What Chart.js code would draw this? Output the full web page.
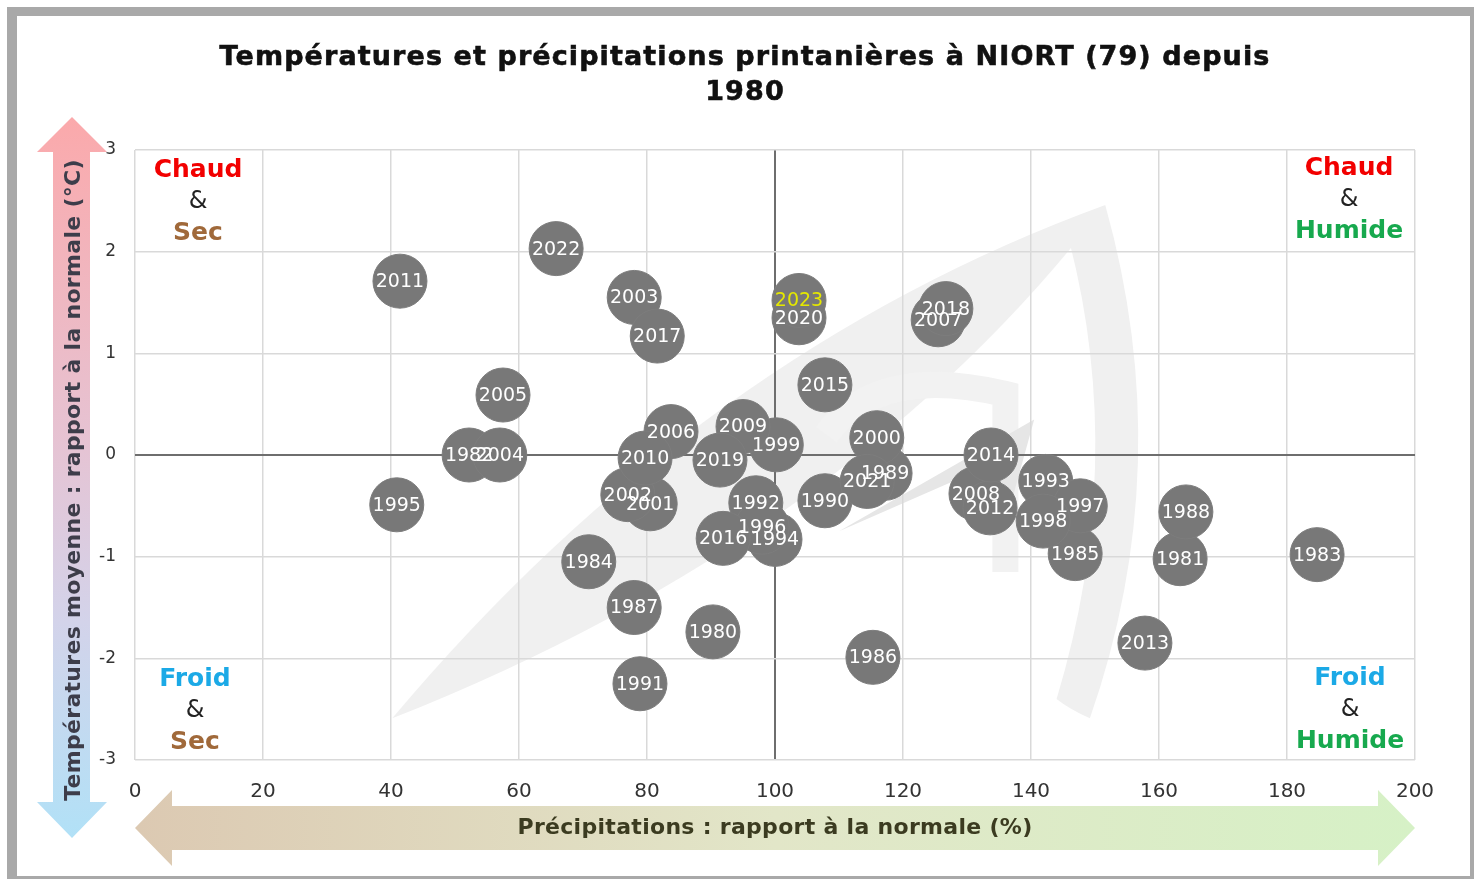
<!DOCTYPE html>
<html>
<head>
<meta charset="utf-8">
<script src="https://cdn.jsdelivr.net/npm/chart.js@4.4.0/dist/chart.umd.min.js"></script>
<style>
html,body{margin:0;padding:0;background:#fff;}
#wrap{width:1474px;height:879px;position:relative;}
</style>
</head>
<body>
<div id="wrap"><canvas id="c" width="1474" height="879"></canvas></div>
<script>
// ---- Data ----
const years = [1980,1981,1982,1983,1984,1985,1986,1987,1988,1989,1990,1991,1992,1993,1994,1995,1996,1997,1998,1999,2000,2001,2002,2003,2004,2005,2006,2007,2008,2009,2010,2011,2012,2013,2014,2015,2016,2017,2018,2019,2020,2021,2022,2023];
const precipitation = [90.3,163.3,52.2,184.7,70.9,146.9,115.3,78.0,164.2,117.2,107.8,78.9,97.0,142.3,100.0,40.9,98.0,147.7,141.9,100.2,115.9,80.5,77.0,78.0,57.0,57.5,83.75,125.5,131.4,95.0,79.7,41.4,133.6,157.8,133.75,107.8,91.9,81.6,126.7,91.4,103.75,114.4,65.8,103.75];
const temperature = [-1.74,-1.02,0.00,-0.98,-1.05,-0.97,-1.99,-1.50,-0.56,-0.18,-0.45,-2.25,-0.47,-0.26,-0.83,-0.49,-0.71,-0.50,-0.65,0.10,0.17,-0.48,-0.39,1.55,0.00,0.59,0.23,1.33,-0.38,0.28,-0.03,1.71,-0.52,-1.85,0.00,0.69,-0.82,1.17,1.44,-0.05,1.35,-0.26,2.03,1.52];
const xTicks = [0,20,40,60,80,100,120,140,160,180,200];
const yTicks = [-3,-2,-1,0,1,2,3];
const highlightYear = 2023;

const titleLines = ['Températures et précipitations printanières à NIORT (79) depuis','1980'];
const xTitle = 'Précipitations : rapport à la normale (%)';
const yTitle = 'Températures moyenne : rapport à la normale (°C)';

const FONT = '"DejaVu Sans", Verdana, sans-serif';

const points = years.map((y,i)=>({x:precipitation[i], y:temperature[i], year:y}));

// ---- Decoration plugin (frame, title, watermark, arrows, quadrant labels) ----
const deco = {
  id:'deco',
  beforeDraw(chart){
    const ctx = chart.ctx;
    ctx.save();
    // frame
    ctx.fillStyle = '#ffffff';
    ctx.fillRect(0,0,chart.width,chart.height);
    ctx.fillStyle = '#a9a9a9';
    ctx.fillRect(7,7,1467,872);
    ctx.fillStyle = '#ffffff';
    ctx.fillRect(17,16,1453,860);
    // title
    ctx.fillStyle = '#111111';
    ctx.strokeStyle = '#111111';
    ctx.lineWidth = 0.6;
    ctx.font = 'bold 27px ' + FONT;
    ctx.textAlign = 'center';
    ctx.textBaseline = 'middle';
    ctx.letterSpacing = '1.1px';
    ctx.fillText(titleLines[0], 745, 58);
    ctx.strokeText(titleLines[0], 745, 58);
    ctx.fillText(titleLines[1], 745, 93);
    ctx.strokeText(titleLines[1], 745, 93);
    ctx.letterSpacing = '0px';
    // watermark (light logo) in data-space
    const xs = chart.scales.x, ys = chart.scales.y;
    const P = (a,b)=>[xs.getPixelForValue(a), ys.getPixelForValue(b)];
    ctx.fillStyle = '#f0f0f0';
    let a=P(40.2,-2.59), b=P(151.6,2.46);
    ctx.beginPath();
    ctx.moveTo(...a);
    ctx.quadraticCurveTo(...P(88,1.0), ...b);
    ctx.quadraticCurveTo(...P(112,-0.8), ...a);
    ctx.fill();
    ctx.beginPath();
    ctx.moveTo(...b);
    ctx.quadraticCurveTo(...P(163,-0.1), ...P(149.2,-2.59));
    ctx.quadraticCurveTo(...P(146,-2.5), ...P(144,-2.4));
    ctx.quadraticCurveTo(...P(155,-0.1), ...P(146,2.1));
    ctx.closePath();
    ctx.fill();
    ctx.strokeStyle = '#f2f2f2';
    ctx.lineWidth = 26;
    ctx.beginPath();
    ctx.moveTo(...P(136,-1.15));
    ctx.lineTo(...P(136,0.6));
    ctx.quadraticCurveTo(...P(116,0.9), ...P(108,0.2));
    ctx.stroke();
    ctx.fillStyle = '#e6e6e6';
    ctx.beginPath();
    ctx.moveTo(...P(110,-0.75));
    ctx.lineTo(...P(140.5,0.35));
    ctx.lineTo(...P(137,-0.45));
    ctx.lineTo(...P(130,-0.2));
    ctx.closePath();
    ctx.fill();
    ctx.restore();
  },
  afterDraw(chart){
    const ctx = chart.ctx;
    const ca = chart.chartArea;
    ctx.save();
    // vertical arrow
    const vx = 72, top = 117, bot = 838;
    let g = ctx.createLinearGradient(0,top,0,bot);
    g.addColorStop(0,'#fba9ab');
    g.addColorStop(0.45,'#e6c3d3');
    g.addColorStop(0.7,'#d3d3ea');
    g.addColorStop(1,'#b1e1f7');
    ctx.fillStyle = g;
    ctx.beginPath();
    ctx.moveTo(vx,top);
    ctx.lineTo(107,152);
    ctx.lineTo(90,152);
    ctx.lineTo(90,802);
    ctx.lineTo(107,802);
    ctx.lineTo(vx,bot);
    ctx.lineTo(37,802);
    ctx.lineTo(53,802);
    ctx.lineTo(53,152);
    ctx.lineTo(37,152);
    ctx.closePath();
    ctx.fill();
    ctx.translate(74,480);
    ctx.rotate(-Math.PI/2);
    ctx.fillStyle = '#3d3d4a';
    ctx.font = 'bold 22px ' + FONT;
    ctx.textAlign = 'center';
    ctx.textBaseline = 'middle';
    ctx.letterSpacing = '0.3px';
    ctx.fillText(yTitle,0,0);
    ctx.letterSpacing = '0px';
    ctx.restore();

    ctx.save();
    // horizontal arrow
    const hy = 828, l = ca.left, r = ca.right;
    g = ctx.createLinearGradient(l,0,r,0);
    g.addColorStop(0,'#dcc9b2');
    g.addColorStop(0.5,'#e2e6c8');
    g.addColorStop(1,'#d6f1c6');
    ctx.fillStyle = g;
    ctx.beginPath();
    ctx.moveTo(l,hy);
    ctx.lineTo(l+37,790);
    ctx.lineTo(l+37,806);
    ctx.lineTo(r-37,806);
    ctx.lineTo(r-37,790);
    ctx.lineTo(r,hy);
    ctx.lineTo(r-37,866);
    ctx.lineTo(r-37,850);
    ctx.lineTo(l+37,850);
    ctx.lineTo(l+37,866);
    ctx.closePath();
    ctx.fill();
    ctx.fillStyle = '#3b3b20';
    ctx.font = 'bold 22px ' + FONT;
    ctx.textAlign = 'center';
    ctx.textBaseline = 'middle';
    ctx.letterSpacing = '0.3px';
    ctx.fillText(xTitle,(l+r)/2,hy);
    ctx.letterSpacing = '0px';
    ctx.restore();

    // quadrant labels
    ctx.save();
    ctx.textAlign = 'center';
    ctx.textBaseline = 'middle';
    const quad = (cx, y0, first, firstColor, last, lastColor)=>{
      ctx.font = 'bold 25px ' + FONT;
      ctx.fillStyle = firstColor; ctx.fillText(first,cx,y0);
      ctx.font = '24px ' + FONT;
      ctx.fillStyle = '#222222'; ctx.fillText('&',cx,y0+32);
      ctx.font = 'bold 25px ' + FONT;
      ctx.fillStyle = lastColor; ctx.fillText(last,cx,y0+63);
    };
    const RED='#f20000', BROWN='#a0693a', GREEN='#17a94e', BLUE='#1ba9e6';
    quad(ca.left+63, ca.top+20, 'Chaud', RED, 'Sec', BROWN);
    quad(ca.right-66, ca.top+18, 'Chaud', RED, 'Humide', GREEN);
    quad(ca.left+60, ca.bottom-81, 'Froid', BLUE, 'Sec', BROWN);
    quad(ca.right-65, ca.bottom-82, 'Froid', BLUE, 'Humide', GREEN);
    ctx.restore();
  },
  afterDatasetsDraw(chart){
    const ctx = chart.ctx;
    const meta = chart.getDatasetMeta(0);
    ctx.save();
    ctx.font = '19px ' + FONT;
    ctx.textAlign = 'center';
    ctx.textBaseline = 'middle';
    meta.data.forEach((el,i)=>{
      ctx.fillStyle = years[i]===highlightYear ? '#e5e800' : '#ffffff';
      ctx.fillText(String(years[i]), el.x, el.y+1);
    });
    ctx.restore();
  }
};

const gridColor = '#d9d9d9';
const axisColor = '#6e6e6e';

new Chart(document.getElementById('c'), {
  type:'scatter',
  data:{ datasets:[{
    data: points,
    pointRadius: 27,
    pointHoverRadius: 27,
    backgroundColor: '#787878',
    borderColor: '#7d7d7d',
    borderWidth: 1
  }]},
  options:{
    responsive:false,
    animation:false,
    events:[],
    layout:{padding:{left:0,right:59,top:150,bottom:0}},
    plugins:{
      legend:{display:false},
      tooltip:{enabled:false},
      title:{display:false}
    },
    scales:{
      x:{
        type:'linear', min:0, max:200,
        afterBuildTicks(s){ s.ticks = xTicks.map(v=>({value:v})); },
        afterFit(s){ s.height = 119; },
        grid:{
          color:(c)=> c.tick && c.tick.value===100 ? axisColor : gridColor,
          lineWidth:(c)=> c.tick && c.tick.value===100 ? 2 : 1.5,
          drawTicks:false
        },
        border:{display:false},
        ticks:{color:'#333333', font:{family:FONT,size:20}, padding:20, maxRotation:0}
      },
      y:{
        type:'linear', min:-3, max:3,
        afterBuildTicks(s){ s.ticks = yTicks.map(v=>({value:v})); },
        afterFit(s){ s.width = 135; },
        grid:{
          color:(c)=> c.tick && c.tick.value===0 ? axisColor : gridColor,
          lineWidth:(c)=> c.tick && c.tick.value===0 ? 2 : 1.5,
          drawTicks:false
        },
        border:{display:false},
        ticks:{color:'#333333', font:{family:FONT,size:17}, padding:19}
      }
    }
  },
  plugins:[deco]
});
</script>
</body>
</html>
